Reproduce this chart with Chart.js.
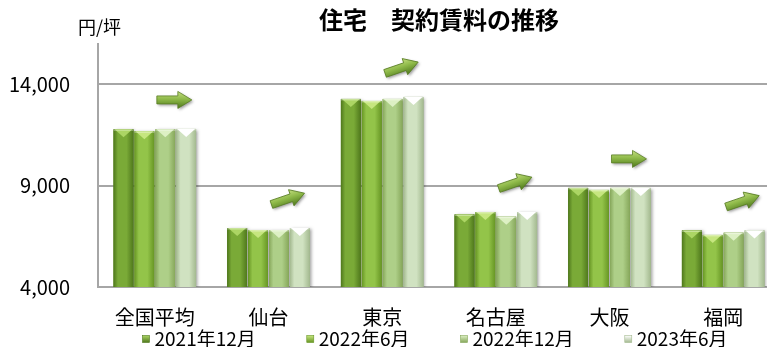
<!DOCTYPE html>
<html lang="ja">
<head>
<meta charset="utf-8">
<title>住宅 契約賃料の推移</title>
<script src="https://cdn.jsdelivr.net/npm/chart.js@4.4.0/dist/chart.umd.min.js"></script>
<style>
  html, body { margin: 0; padding: 0; background: #fff; overflow: hidden; }
  #wrap { position: relative; width: 780px; height: 347px; }
</style>
</head>
<body>
<div id="wrap"><canvas id="chart"></canvas></div>
<script>
// 契約賃料（円/坪）
const cities = ['全国平均', '仙台', '東京', '名古屋', '大阪', '福岡'];
const periods = ['2021年12月', '2022年6月', '2022年12月', '2023年6月'];
const rent2021Dec = [11780, 6910, 13280, 7580, 8890, 6790];
const rent2022Jun = [11680, 6810, 13180, 7700, 8790, 6570];
const rent2022Dec = [11780, 6810, 13280, 7470, 8890, 6680];
const rent2023Jun = [11800, 6910, 13380, 7700, 8890, 6790];
const yTicks = [4000, 9000, 14000];
const trends = ['flat', 'up', 'up', 'up', 'flat', 'up'];

const FONT = '"Noto Sans CJK JP", "Noto Sans", sans-serif';

// edge / middle / top-cap colours for each series
const palette = [
  { edge: '#4f781c', mid: '#7aaa37', cap: '#acd564' },
  { edge: '#679624', mid: '#93c449', cap: '#c6e67f' },
  { edge: '#86a75a', mid: '#aecf88', cap: '#ddf0c4' },
  { edge: '#a3b98f', mid: '#d0e2c1', cap: '#ffffff' }
];

const bevelBars = {
  id: 'bevelBars',
  afterDatasetsDraw(chart) {
    const ctx = chart.ctx, area = chart.chartArea;
    ctx.save();
    // keep the shading inside the plot (bars start below the axis minimum)
    ctx.beginPath();
    ctx.rect(area.left, area.top, area.right - area.left + 4, area.bottom - area.top);
    ctx.clip();
    chart.data.datasets.forEach((ds, di) => {
      const pal = palette[di];
      chart.getDatasetMeta(di).data.forEach(bar => {
        const { x, y, base, width } = bar.getProps(['x', 'y', 'base', 'width'], true);
        const l = x - width / 2;
        const bottom = Math.min(base, area.bottom);
        const h = bottom - y;
        ctx.save();
        ctx.shadowColor = 'rgba(0,0,0,0.35)';
        ctx.shadowBlur = 3;
        ctx.shadowOffsetX = 2;
        ctx.shadowOffsetY = 1;
        ctx.fillStyle = pal.edge;
        ctx.fillRect(l, y, width, h);
        ctx.restore();

        const g = ctx.createLinearGradient(l, 0, l + width, 0);
        g.addColorStop(0, pal.edge);
        g.addColorStop(0.22, pal.mid);
        g.addColorStop(0.65, pal.mid);
        g.addColorStop(1, pal.edge);
        ctx.fillStyle = g;
        ctx.fillRect(l, y, width, h);

        // bevelled top
        ctx.beginPath();
        ctx.moveTo(l + 1, y);
        ctx.lineTo(l + width - 1, y);
        ctx.lineTo(x, y + 8);
        ctx.closePath();
        ctx.fillStyle = pal.cap;
        ctx.fill();
        ctx.fillStyle = 'rgba(255,255,255,0.35)';
        ctx.fillRect(l, y, width, 1.5);
      });
    });
    ctx.restore();
  }
};

const trendArrows = {
  id: 'trendArrows',
  afterDatasetsDraw(chart) {
    const ctx = chart.ctx, xs = chart.scales.x;
    cities.forEach((c, i) => {
      let top = Infinity;
      chart.data.datasets.forEach((ds, di) => {
        top = Math.min(top, chart.getDatasetMeta(di).data[i].y);
      });
      const cx = xs.getPixelForValue(i) + 19, cy = top - 29;
      ctx.save();
      ctx.translate(cx, cy);
      ctx.rotate(trends[i] === 'up' ? -0.33 : 0);
      ctx.beginPath();
      ctx.moveTo(-17, -4);
      ctx.lineTo(4, -4);
      ctx.lineTo(4, -8.5);
      ctx.lineTo(18, 0);
      ctx.lineTo(4, 8.5);
      ctx.lineTo(4, 4);
      ctx.lineTo(-17, 4);
      ctx.closePath();
      const g = ctx.createLinearGradient(0, -8.5, 0, 8.5);
      g.addColorStop(0, '#c4de80');
      g.addColorStop(0.45, '#8fba4a');
      g.addColorStop(1, '#4e781c');
      ctx.shadowColor = 'rgba(0,0,0,0.4)';
      ctx.shadowBlur = 3;
      ctx.shadowOffsetX = 1.5;
      ctx.shadowOffsetY = 1.5;
      ctx.fillStyle = g;
      ctx.fill();
      ctx.shadowColor = 'transparent';
      ctx.strokeStyle = '#5a7f25';
      ctx.lineWidth = 0.8;
      ctx.stroke();
      ctx.restore();
    });
  }
};

// unit label and series legend
const extras = {
  id: 'extras',
  afterDraw(chart) {
    const ctx = chart.ctx, area = chart.chartArea;
    ctx.save();
    ctx.fillStyle = '#000';
    ctx.textBaseline = 'middle';
    ctx.textAlign = 'left';
    ctx.font = '18px ' + FONT;
    ctx.fillText('円/坪', area.left - 20, area.top - 17);

    ctx.font = '19px ' + FONT;
    const box = 7, gapText = 5, gapItem = 51;
    const labels = chart.data.datasets.map(ds => ds.label);
    const widths = labels.map(t => box + gapText + ctx.measureText(t).width);
    const total = widths.reduce((a, b) => a + b, 0) + gapItem * (widths.length - 1);
    let x = (area.left + area.right) / 2 - total / 2 - 4;
    const y = chart.height - 8;
    labels.forEach((t, i) => {
      const pal = palette[i];
      const g = ctx.createLinearGradient(0, y - box / 2, 0, y + box / 2);
      g.addColorStop(0, pal.cap);
      g.addColorStop(1, pal.edge);
      ctx.fillStyle = g;
      ctx.fillRect(x, y - box / 2, box, box);
      ctx.strokeStyle = pal.edge;
      ctx.lineWidth = 0.6;
      ctx.strokeRect(x, y - box / 2, box, box);
      ctx.fillStyle = '#000';
      ctx.fillText(t, x + box + gapText, y);
      x += widths[i] + gapItem;
    });
    ctx.restore();
  }
};

const series = [rent2021Dec, rent2022Jun, rent2022Dec, rent2023Jun];

new Chart(document.getElementById('chart'), {
  type: 'bar',
  data: {
    labels: cities,
    datasets: periods.map((p, i) => ({
      label: p,
      data: series[i],
      backgroundColor: palette[i].mid,
      borderWidth: 0,
      barPercentage: 0.95,
      categoryPercentage: 0.735
    }))
  },
  options: {
    responsive: true,
    maintainAspectRatio: false,
    animation: false,
    devicePixelRatio: 1,
    layout: { padding: 0 },
    plugins: {
      legend: { display: false },
      tooltip: { enabled: false },
      title: {
        display: true,
        text: '住宅　契約賃料の推移',
        fullSize: false,
        color: '#000',
        font: { size: 24, weight: 'bold', family: FONT },
        padding: { top: 5, bottom: 10 }
      }
    },
    scales: {
      x: {
        grid: { display: false, drawTicks: false },
        border: { display: false },
        afterFit: s => { s.height = 60; },
        ticks: { padding: 18, color: '#000', font: { size: 20, family: FONT } }
      },
      y: {
        min: 4000,
        max: 16000,
        afterBuildTicks: s => { s.ticks = yTicks.map(v => ({ value: v })); },
        afterFit: s => { s.width = 98; },
        grid: { color: '#a6a6a6', lineWidth: 2, drawTicks: false },
        border: { display: true, color: '#a6a6a6', width: 2 },
        ticks: {
          padding: 28,
          color: '#000',
          font: { size: 20, family: FONT },
          callback: v => v.toLocaleString('en-US')
        }
      }
    }
  },
  plugins: [bevelBars, trendArrows, extras]
});
</script>
</body>
</html>
